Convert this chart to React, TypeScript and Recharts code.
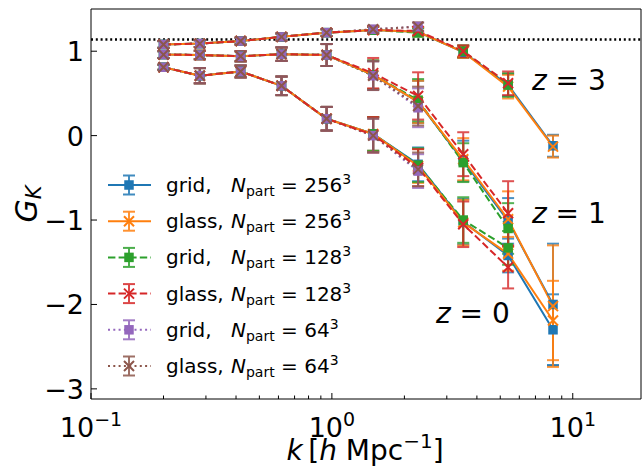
import React from 'react';
import {
  ComposedChart,
  Line,
  XAxis,
  YAxis,
  ErrorBar,
  ReferenceLine,
  ReferenceArea,
} from 'recharts';

// wavenumbers k [h/Mpc]
const kVals = [0.2, 0.283, 0.418, 0.618, 0.951, 1.484, 2.28, 3.51, 5.39, 8.28];

// grid, N=256^3
const grid256Z3 = [1.08, 1.09, 1.12, 1.17, 1.22, 1.25, 1.23, 0.99, 0.6, -0.12];
const grid256Z1 = [0.96, 0.955, 0.94, 0.965, 0.955, 0.72, 0.4, -0.3, -1.01, -2.0];
const grid256Z0 = [0.81, 0.71, 0.76, 0.59, 0.2, 0.02, -0.34, -1.02, -1.42, -2.3];
const grid256E3 = [0.04, 0.04, 0.04, 0.04, 0.04, 0.04, 0.05, 0.07, 0.13, 0.13];
const grid256E1 = [0.04, 0.05, 0.06, 0.08, 0.13, 0.17, 0.25, 0.24, 0.27, 0.72];
const grid256E0 = [0.03, 0.09, 0.07, 0.11, 0.14, 0.2, 0.2, 0.27, 0.2, 0.42];

// glass, N=256^3
const glass256Z3 = [1.08, 1.09, 1.12, 1.17, 1.22, 1.25, 1.23, 0.99, 0.58, -0.13];
const glass256Z1 = [0.96, 0.955, 0.94, 0.965, 0.955, 0.72, 0.4, -0.28, -0.99, -2.02];
const glass256Z0 = [0.81, 0.71, 0.76, 0.59, 0.2, 0.02, -0.36, -1.03, -1.4, -2.19];
const glass256E3 = [0.04, 0.04, 0.04, 0.04, 0.04, 0.04, 0.05, 0.07, 0.14, 0.13];
const glass256E1 = [0.04, 0.05, 0.06, 0.08, 0.13, 0.17, 0.25, 0.25, 0.33, 0.72];
const glass256E0 = [0.03, 0.09, 0.07, 0.11, 0.14, 0.2, 0.2, 0.27, 0.2, 0.47];

// grid, N=128^3
const grid128Z3 = [1.08, 1.09, 1.12, 1.17, 1.22, 1.25, 1.22, 1.0, 0.6];
const grid128Z1 = [0.96, 0.955, 0.94, 0.965, 0.955, 0.72, 0.42, -0.32, -1.1];
const grid128Z0 = [0.81, 0.71, 0.76, 0.59, 0.2, 0.02, -0.35, -1.0, -1.33];
const grid128E3 = [0.04, 0.04, 0.04, 0.04, 0.04, 0.04, 0.05, 0.07, 0.14];
const grid128E1 = [0.04, 0.05, 0.06, 0.08, 0.13, 0.17, 0.25, 0.23, 0.3];
const grid128E0 = [0.03, 0.09, 0.07, 0.11, 0.14, 0.2, 0.2, 0.27, 0.2];

// glass, N=128^3
const glass128Z3 = [1.08, 1.09, 1.12, 1.17, 1.22, 1.25, 1.24, 1.0, 0.62];
const glass128Z1 = [0.96, 0.955, 0.94, 0.965, 0.955, 0.74, 0.47, -0.22, -0.92];
const glass128Z0 = [0.81, 0.71, 0.76, 0.59, 0.2, 0.01, -0.38, -1.05, -1.56];
const glass128E3 = [0.04, 0.04, 0.04, 0.04, 0.04, 0.04, 0.05, 0.07, 0.14];
const glass128E1 = [0.04, 0.05, 0.06, 0.08, 0.13, 0.18, 0.28, 0.26, 0.38];
const glass128E0 = [0.03, 0.09, 0.07, 0.11, 0.14, 0.21, 0.22, 0.27, 0.25];

// grid, N=64^3
const grid64Z3 = [1.08, 1.09, 1.12, 1.17, 1.22, 1.26, 1.29];
const grid64Z1 = [0.96, 0.955, 0.94, 0.965, 0.955, 0.71, 0.33];
const grid64Z0 = [0.81, 0.71, 0.76, 0.59, 0.2, 0.0, -0.42];
const grid64E3 = [0.04, 0.04, 0.04, 0.04, 0.04, 0.04, 0.05];
const grid64E1 = [0.04, 0.05, 0.06, 0.08, 0.13, 0.17, 0.23];
const grid64E0 = [0.03, 0.09, 0.07, 0.11, 0.14, 0.2, 0.2];

// glass, N=64^3
const glass64Z3 = [1.08, 1.09, 1.12, 1.17, 1.22, 1.26, 1.29];
const glass64Z1 = [0.96, 0.955, 0.94, 0.965, 0.955, 0.71, 0.35];
const glass64Z0 = [0.81, 0.71, 0.76, 0.59, 0.2, 0.0, -0.4];
const glass64E3 = [0.04, 0.04, 0.04, 0.04, 0.04, 0.04, 0.05];
const glass64E1 = [0.04, 0.05, 0.06, 0.08, 0.13, 0.17, 0.23];
const glass64E0 = [0.03, 0.09, 0.07, 0.11, 0.14, 0.2, 0.2];

const xTicks = [0.1, 0.2, 0.3, 0.4, 0.5, 0.6, 0.7, 0.8, 0.9, 1, 2, 3, 4, 5, 6, 7, 8, 9, 10];
const yTicks = [-3, -2, -1, 0, 1];
const deltaC = 1.14;

const runs = [
  { key: 'grid256', type: 'grid', n: '256', color: '#1f77b4', dash: undefined, marker: 'square', z: [grid256Z0, grid256Z1, grid256Z3], e: [grid256E0, grid256E1, grid256E3] },
  { key: 'glass256', type: 'glass', n: '256', color: '#ff7f0e', dash: undefined, marker: 'x', z: [glass256Z0, glass256Z1, glass256Z3], e: [glass256E0, glass256E1, glass256E3] },
  { key: 'grid128', type: 'grid', n: '128', color: '#2ca02c', dash: '7.4 3.2', marker: 'square', z: [grid128Z0, grid128Z1, grid128Z3], e: [grid128E0, grid128E1, grid128E3] },
  { key: 'glass128', type: 'glass', n: '128', color: '#d62728', dash: '7.4 3.2', marker: 'x', z: [glass128Z0, glass128Z1, glass128Z3], e: [glass128E0, glass128E1, glass128E3] },
  { key: 'grid64', type: 'grid', n: '64', color: '#9467bd', dash: '2 3.3', marker: 'square', z: [grid64Z0, grid64Z1, grid64Z3], e: [grid64E0, grid64E1, grid64E3] },
  { key: 'glass64', type: 'glass', n: '64', color: '#8c564b', dash: '2 3.3', marker: 'x', z: [glass64Z0, glass64Z1, glass64Z3], e: [glass64E0, glass64E1, glass64E3] },
];
const zNames = ['z0', 'z1', 'z3'];
// order in which the connecting curves are stacked (bottom first)
const curveOrder = ['grid64', 'glass64', 'grid256', 'grid128', 'glass256', 'glass128'];

const data = kVals.map((k, i) => {
  const row: Record<string, number> = { k };
  runs.forEach((r) => {
    zNames.forEach((zn, j) => {
      if (i < r.z[j].length) {
        row[`${r.key}_${zn}`] = r.z[j][i];
        row[`${r.key}_${zn}_e`] = r.e[j][i];
      }
    });
  });
  return row;
});

const FONT = '"DejaVu Sans", sans-serif';

function Marker({ cx, cy, color, marker }: { cx: number; cy: number; color: string; marker: string }) {
  if (marker === 'square') {
    return <rect x={cx - 4.75} y={cy - 4.75} width={9.5} height={9.5} fill={color} />;
  }
  const s = 5;
  return (
    <path
      d={`M${cx - s},${cy - s}L${cx + s},${cy + s}M${cx - s},${cy + s}L${cx + s},${cy - s}`}
      stroke={color}
      strokeWidth={2}
      fill="none"
    />
  );
}

const makeDot = (color: string, marker: string, id: string) => (props: any) => {
  const { cx, cy, index, value } = props;
  const key = `${id}-${index}`;
  if (cx == null || cy == null || value == null || Number.isNaN(cy)) return <g key={key} />;
  return (
    <g key={key}>
      <Marker cx={cx} cy={cy} color={color} marker={marker} />
    </g>
  );
};

const XTick = (props: any) => {
  const { x, y, payload } = props;
  const v = payload.value;
  const major = v === 0.1 || v === 1 || v === 10;
  const exp = v === 0.1 ? '\u22121' : v === 1 ? '0' : '1';
  return (
    <g>
      <line x1={x} y1={y} x2={x} y2={y - (major ? 6 : 3.5)} stroke="#000" strokeWidth={1} />
      {major && (
        <text x={x} y={y + 38} textAnchor="middle" fontSize={27} fontFamily={FONT} fill="#000">
          10
          <tspan fontSize={19} dy={-11}>{exp}</tspan>
        </text>
      )}
    </g>
  );
};

const YTick = (props: any) => {
  const { x, y, payload } = props;
  const v = payload.value;
  const label = v < 0 ? `\u2212${Math.abs(v)}` : `${v}`;
  return (
    <g>
      <line x1={x} y1={y} x2={x + 6} y2={y} stroke="#000" strokeWidth={1} />
      <text x={x - 7} y={y + 10} textAnchor="end" fontSize={27} fontFamily={FONT} fill="#000">
        {label}
      </text>
    </g>
  );
};

function LegendOverlay() {
  const rowY = [185, 221.2, 257.4, 293.6, 329.8, 366];
  return (
    <g fontFamily={FONT} fill="#000">
      {runs.map((r, i) => {
        const cy = rowY[i];
        return (
          <g key={r.key}>
            <line x1={108} y1={cy} x2={151} y2={cy} stroke={r.color} strokeWidth={2} strokeDasharray={r.dash} />
            <g stroke={r.color} strokeWidth={2} opacity={0.85}>
              <line x1={129} y1={cy - 9.5} x2={129} y2={cy + 9.5} />
              <line x1={123} y1={cy - 9.5} x2={135} y2={cy - 9.5} />
              <line x1={123} y1={cy + 9.5} x2={135} y2={cy + 9.5} />
            </g>
            <Marker cx={129} cy={cy} color={r.color} marker={r.marker} />
            <text x={166} y={cy + 7} fontSize={20}>
              {r.type},
            </text>
            <text x={231} y={cy + 7} fontSize={20}>
              <tspan fontStyle="italic">N</tspan>
              <tspan fontSize={14} dy={4}>part</tspan>
              <tspan dy={-4}>{' = '}{r.n}</tspan>
              <tspan fontSize={14} dy={-8}>3</tspan>
            </text>
          </g>
        );
      })}
    </g>
  );
}

function TextOverlay() {
  return (
    <svg
      width={643}
      height={468}
      style={{ position: 'absolute', left: 0, top: 0, pointerEvents: 'none' }}
    >
      <LegendOverlay />
      <g fontFamily={FONT} fontSize={28} fill="#000">
        <text x={532} y={90}>
          <tspan fontStyle="italic">z</tspan>{' = 3'}
        </text>
        <text x={532} y={223}>
          <tspan fontStyle="italic">z</tspan>{' = 1'}
        </text>
        <text x={436} y={323}>
          <tspan fontStyle="italic">z</tspan>{' = 0'}
        </text>
      </g>
      <text x={365} y={460} textAnchor="middle" fontFamily={FONT} fontSize={28} fill="#000">
        <tspan fontStyle="italic">k</tspan>
        <tspan>{'\u2009['}</tspan>
        <tspan fontStyle="italic">h</tspan>
        <tspan>{' Mpc'}</tspan>
        <tspan fontSize={20} dy={-12}>{'\u22121'}</tspan>
        <tspan dy={12}>]</tspan>
      </text>
      <text
        transform="translate(37,204) rotate(-90)"
        textAnchor="middle"
        fontFamily={FONT}
        fontSize={30}
        fill="#000"
      >
        <tspan fontStyle="italic">G</tspan>
        <tspan fontStyle="italic" fontSize={21} dy={4}>K</tspan>
      </text>
    </svg>
  );
}

export default function App() {
  const byKey = Object.fromEntries(runs.map((r) => [r.key, r]));
  return (
    <div style={{ position: 'absolute', left: 0, top: 0, width: 643, height: 468, background: '#fff' }}>
      <ComposedChart
        width={643}
        height={468}
        data={data}
        margin={{ top: 9, right: 2, bottom: 0, left: 0 }}
      >
        <XAxis
          dataKey="k"
          type="number"
          scale="log"
          domain={[0.1, 19.2]}
          allowDataOverflow
          ticks={xTicks}
          interval={0}
          height={69}
          axisLine={false}
          tickLine={false}
          tickSize={0}
          tickMargin={0}
          tick={<XTick />}
        />
        <YAxis
          type="number"
          domain={[-3.12, 1.5]}
          allowDataOverflow
          ticks={yTicks}
          interval={0}
          width={91}
          axisLine={false}
          tickLine={false}
          tickSize={0}
          tickMargin={0}
          tick={<YTick />}
        />
        <ReferenceLine y={deltaC} stroke="#000" strokeWidth={2.5} strokeDasharray="2 2.8" />
        {/* connecting curves */}
        {curveOrder.map((rk) => {
          const r = byKey[rk];
          return zNames.map((zn) => {
            const id = `${r.key}_${zn}`;
            return (
              <Line
                key={`c-${id}`}
                dataKey={id}
                type="linear"
                stroke={r.color}
                strokeWidth={2}
                strokeDasharray={r.dash}
                dot={false}
                activeDot={false}
                legendType="none"
                isAnimationActive={false}
              />
            );
          });
        })}
        {/* error bars and markers */}
        {runs.map((r) =>
          zNames.map((zn) => {
            const id = `${r.key}_${zn}`;
            return (
              <Line
                key={`m-${id}`}
                dataKey={id}
                type="linear"
                stroke="none"
                dot={makeDot(r.color, r.marker, id)}
                activeDot={false}
                legendType="none"
                isAnimationActive={false}
              >
                <ErrorBar
                  dataKey={`${id}_e`}
                  direction="y"
                  width={6}
                  stroke={r.color}
                  strokeWidth={2}
                  opacity={0.8}
                  isAnimationActive={false}
                />
              </Line>
            );
          })
        )}
        <ReferenceArea
          x1={0.1}
          x2={19.2}
          y1={-3.12}
          y2={1.5}
          fill="none"
          stroke="#000"
          strokeWidth={1}
          ifOverflow="visible"
        />
      </ComposedChart>
      <TextOverlay />
    </div>
  );
}
